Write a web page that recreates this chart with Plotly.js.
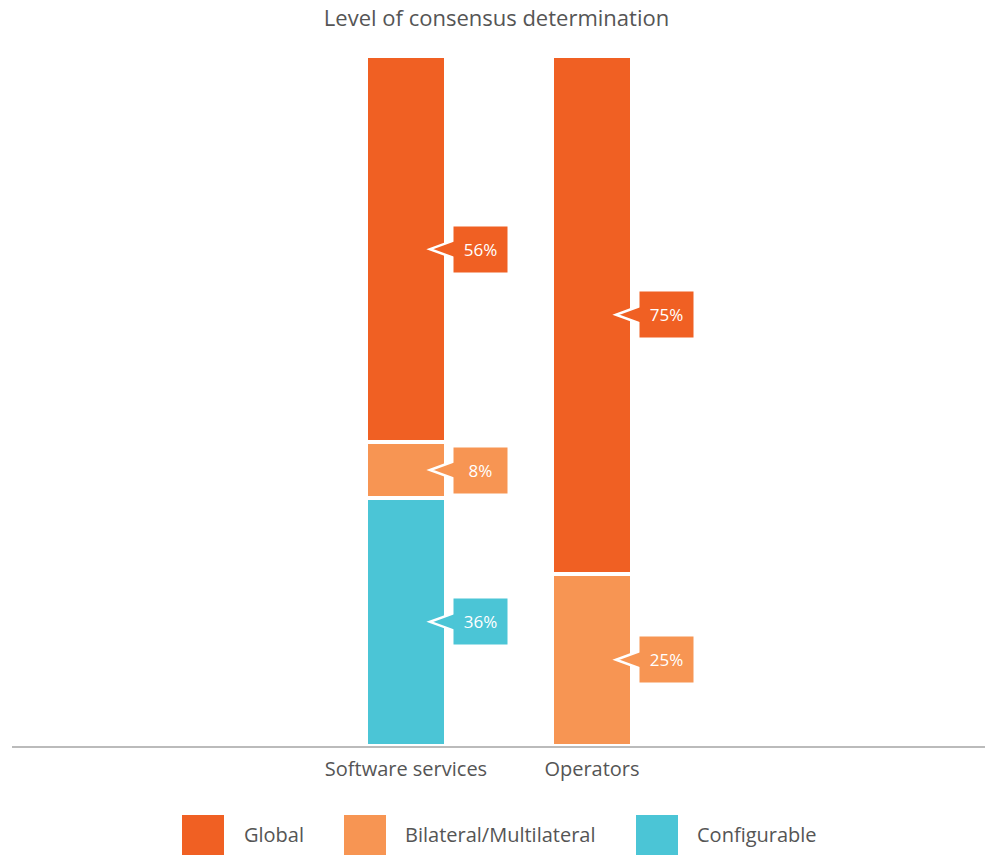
<!DOCTYPE html>
<html>
<head>
<meta charset="utf-8">
<script src="https://cdn.plot.ly/plotly-3.0.1.min.js"></script>
<style>html,body{margin:0;padding:0;background:#fff;}#chart{width:993px;height:855px;}</style>
</head>
<body>
<div id="chart"></div>
<script>
const categories = ["Software services", "Operators"];
const seriesNames = ["Global", "Bilateral/Multilateral", "Configurable"];
const globalVals = [56, 75];
const bilateralVals = [8, 25];
const configurableVals = [36, 0];
const colors = {"Global": "#F06023", "Bilateral/Multilateral": "#F79553", "Configurable": "#4BC5D6"};
const titleText = "Level of consensus determination";

const W = 993, H = 855;
const M = {l: 12, r: 8, t: 56, b: 109};
const plotW = W - M.l - M.r, plotH = H - M.t - M.b;
const xRange = [-2.118, 3.113];
const yRange = [0, 100];
const pxPerX = plotW / (xRange[1] - xRange[0]);
const pxPerY = plotH / (yRange[1] - yRange[0]);
const fontFam = "'Open Sans', Lato, sans-serif";
const grey = "#555555";

// stack bottom -> top
const stackOrder = [
  {name: "Configurable", vals: configurableVals},
  {name: "Bilateral/Multilateral", vals: bilateralVals},
  {name: "Global", vals: globalVals}
];

const lineW = 4;
const barWidth = (76 + lineW) / pxPerX;
const xs = categories.map((c, i) => i);

const traces = stackOrder.map(s => ({
  type: "bar",
  name: s.name,
  x: xs,
  y: s.vals.map(v => v > 0 ? v : null),
  width: barWidth,
  marker: {color: colors[s.name], line: {color: "#ffffff", width: lineW}},
  hoverinfo: "skip",
  showlegend: false
}));

const annotations = [];
const shapes = [];
const boxOff = 74.5 / pxPerX;
const tipOff = 24 / pxPerX;
const baseOff = 50 / pxPerX;
const triHalf = 9.5 / pxPerY;
categories.forEach((c, i) => {
  let base = 0;
  stackOrder.forEach(s => {
    const v = s.vals[i];
    if (v > 0) {
      const mid = base + v / 2;
      const col = colors[s.name];
      shapes.push({
        type: "path", xref: "x", yref: "y", layer: "above",
        path: `M ${i + baseOff} ${mid + triHalf} L ${i + tipOff} ${mid} L ${i + baseOff} ${mid - triHalf} Z`,
        fillcolor: col, line: {color: "#ffffff", width: 2.5}
      });
      annotations.push({
        x: i + boxOff, y: mid, xref: "x", yref: "y",
        text: v + "%", showarrow: false,
        font: {family: fontFam, size: 17, color: "#ffffff"},
        bgcolor: col, width: 53, height: 45, borderpad: 0,
        xanchor: "center", yanchor: "middle", align: "center", valign: "middle"
      });
    }
    base += v;
  });
});

// manual legend (large squares)
const legendItems = [
  {name: "Global", sq: 182, lab: 242},
  {name: "Bilateral/Multilateral", sq: 344, lab: 403},
  {name: "Configurable", sq: 636, lab: 695}
];
const px2px = x => (x - M.l) / plotW;
const py2py = y => (H - M.b - y) / plotH;
legendItems.forEach(it => {
  shapes.push({
    type: "rect", xref: "paper", yref: "paper",
    x0: px2px(it.sq), x1: px2px(it.sq + 42), y0: py2py(815), y1: py2py(856),
    fillcolor: colors[it.name], line: {width: 0}
  });
  annotations.push({
    xref: "paper", yref: "paper", x: px2px(it.lab), y: py2py(834),
    xanchor: "left", yanchor: "middle", showarrow: false,
    text: it.name, font: {family: fontFam, size: 20, color: grey}
  });
});

const layout = {
  width: W, height: H,
  margin: M,
  paper_bgcolor: "#ffffff", plot_bgcolor: "#ffffff",
  barmode: "stack",
  showlegend: false,
  title: {
    text: titleText, x: 0.5, xanchor: "center", xref: "container",
    y: 1 - 18 / H, yanchor: "middle", yref: "container",
    font: {family: fontFam, size: 22, color: grey}
  },
  xaxis: {
    type: "linear", range: xRange, tickmode: "array", tickvals: xs, ticktext: categories,
    showgrid: false, zeroline: false, showline: true, linecolor: "#bbbbbb", linewidth: 1.5,
    ticks: "", ticklabelstandoff: 4,
    tickfont: {family: fontFam, size: 20, color: grey}, fixedrange: true
  },
  yaxis: {
    range: yRange, visible: false, showgrid: false, zeroline: false, fixedrange: true
  },
  shapes: shapes,
  annotations: annotations
};

Plotly.newPlot("chart", traces, layout, {displayModeBar: false, staticPlot: true});
</script>
</body>
</html>
